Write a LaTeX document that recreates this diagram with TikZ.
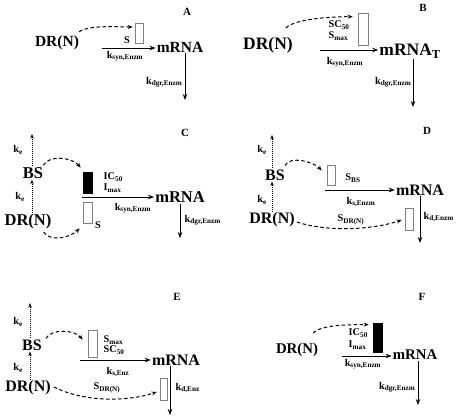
\documentclass[tikz,border=0pt]{standalone}
\usepackage{fontspec}
\setmainfont{Liberation Serif}
\usetikzlibrary{arrows.meta}

\tikzset{
  big/.style={font=\fontsize{#1}{#1}\selectfont\bfseries, inner sep=1pt},
  big/.default=16,
  lab/.style={font=\fontsize{10.3}{11}\selectfont\bfseries, inner sep=0.5pt},
  panel/.style={font=\fontsize{11}{11}\selectfont\bfseries},
  flow/.style={-{Stealth[length=6pt,width=4.5pt]}, line width=0.9pt},
  dflow/.style={-{Stealth[length=5pt,width=4pt]}, line width=1pt, dash pattern=on 3.5pt off 2.5pt},
  eflow/.style={-{Stealth[length=4.5pt,width=3.5pt]}, line width=1pt, dash pattern=on 1pt off 1pt},
  gbox/.style={draw=gray, line width=0.7pt, minimum width=8pt, minimum height=20pt, inner sep=0pt},
  kbox/.style={gbox, draw=black, fill=black},
}

\begin{document}
\begin{tikzpicture}[x=1pt, y=-1pt]
    \useasboundingbox (0,0) rectangle (460,418);

    % A
    \node [panel] (pA) at (187,12) {A};
    \node [big=15.5] (dA) at (57,43) {DR(N)};
    \node [big=15.5] (mA) at (180,47) {mRNA};
    \node [gbox] (bA) at (139,33) {};
    \node [lab] (sA) at (127,40) {S};
    \node [lab] (kA) at (125,56) {k\textsubscript{syn,Enzm}};
    \node [lab, anchor=east] (gA) at (183,82) {k\textsubscript{dgr,Enzm}};
    \coordinate (iA) at (102,48);
    \coordinate (oA) at (185,100);
    \draw [flow] (iA) -- (iA -| mA.west);
    \draw [flow] (oA |- mA.south) -- (oA);
    \draw [dflow] ([shift={(-1,-3)}]dA.north east) .. controls +(10,-7) and +(-15,0) .. ([shift={(-2,-6)}]bA.west);

    % B
    \node [panel] (pB) at (423,8) {B};
    \node [big=17.5] (dB) at (268,45) {DR(N)};
    \node [big=17.5] (mB) at (410,51) {mRNA\textsubscript{T}};
    \node [gbox, minimum width=10pt, minimum height=32pt] (bB) at (363,29) {};
    \node [lab, anchor=west] (scB) at (328,25) {SC\textsubscript{50}};
    \node [lab, anchor=west] (smB) at (328,36) {S\textsubscript{max}};
    \node [lab] (kB) at (345,62) {k\textsubscript{syn,Enzm}};
    \node [lab, anchor=east] (gB) at (412,82) {k\textsubscript{dgr,Enzm}};
    \coordinate (iB) at (320,50);
    \coordinate (oB) at (413,107);
    \draw [flow] (iB) -- (iB -| mB.west);
    \draw [flow] (oB |- mB.south) -- (oB);
    \draw [dflow] ([shift={(-8,-8)}]dB.north east) .. controls +(10,-10) and +(-15,0) .. ([shift={(-5,4)}]bB.north west);

    % C
    \node [panel] (pC) at (185,133) {C};
    \node [big=16.5] (bsC) at (33,173) {BS};
    \node [big=16.5] (dC) at (28,222) {DR(N)};
    \node [big=16.5] (mC) at (180,197) {mRNA};
    \node [kbox, minimum width=9pt, minimum height=21pt] (bC) at (87.5,182.5) {};
    \node [gbox, minimum width=9pt, minimum height=21pt] (wC) at (87.5,212.5) {};
    \node [lab, anchor=west] (icC) at (103,177) {IC\textsubscript{50}};
    \node [lab, anchor=west] (imC) at (103,188) {I\textsubscript{max}};
    \node [lab] (sC) at (98,225) {S};
    \node [lab] (kC) at (133,208) {k\textsubscript{syn,Enzm}};
    \node [lab, anchor=west] (gC) at (184,220) {k\textsubscript{dgr,Enzm}};
    \node [lab] (e1C) at (18,150) {k\textsubscript{e}};
    \node [lab] (e2C) at (20,197) {k\textsubscript{e}};
    \coordinate (tC) at (32,134);
    \coordinate (iC) at (82,197);
    \coordinate (oC) at (180,238);
    \draw [eflow] (tC |- bsC.north) -- (tC);
    \draw [eflow] (tC |- dC.north) -- (tC |- bsC.south);
    \draw [flow] (iC) -- (iC -| mC.west);
    \draw [flow] (oC |- mC.south) -- (oC);
    \draw [dflow] ([shift={(-1,-1)}]bsC.north east) .. controls +(6,-11) and +(-8,-10) .. ([shift={(-2,-4)}]bC.north west);
    \draw [dflow] ([shift={(-9,1.5)}]dC.south east) .. controls +(8,11) and +(-8,8) .. ([shift={(-3,5)}]wC.south west);

    % D
    \node [panel] (pD) at (427,131) {D};
    \node [big=16] (bsD) at (275,175) {BS};
    \node [big=16] (dD) at (272,220) {DR(N)};
    \node [big=16] (mD) at (420,190) {mRNA};
    \node [gbox] (bD) at (331,175) {};
    \node [gbox, minimum height=22pt] (wD) at (409,219) {};
    \node [lab] (sD) at (353,178) {S\textsubscript{BS}};
    \node [lab] (kD) at (361,202) {k\textsubscript{s,Enzm}};
    \node [lab] (rD) at (351,220) {S\textsubscript{DR(N)}};
    \node [lab, anchor=west] (gD) at (423,217) {k\textsubscript{d,Enzm}};
    \node [lab] (e1D) at (262,150) {k\textsubscript{e}};
    \node [lab] (e2D) at (262,200) {k\textsubscript{e}};
    \coordinate (tD) at (272,135);
    \coordinate (iD) at (325,190);
    \coordinate (oD) at (420,243);
    \draw [eflow] (tD |- bsD.north) -- (tD);
    \draw [eflow] (tD |- dD.north) -- (tD |- bsD.south);
    \draw [flow] (iD) -- (iD -| mD.west);
    \draw [flow] (oD |- mD.south) -- (oD);
    \draw [dflow] ([shift={(-1,-3)}]bsD.north east) .. controls +(5,-10) and +(-8,-9) .. ([shift={(-5,6)}]bD.north west);
    \draw [dflow] ([shift={(1,2)}]dD.east) .. controls +(30,10) and +(-30,10) .. ([shift={(-3,1)}]wD.west);

    % E
    \node [panel] (pE) at (177,297) {E};
    \node [big=16] (bsE) at (32,345) {BS};
    \node [big=16] (dE) at (28,388) {DR(N)};
    \node [big=16] (mE) at (176,360) {mRNA};
    \node [gbox, minimum width=9pt, minimum height=27pt] (bE) at (92.5,343.5) {};
    \node [gbox, minimum width=7pt, minimum height=22pt] (wE) at (163.5,389) {};
    \node [lab, anchor=west] (smE) at (103,340) {S\textsubscript{max}};
    \node [lab, anchor=west] (scE) at (103,350) {SC\textsubscript{50}};
    \node [lab] (kE) at (118,372) {k\textsubscript{s,Enz}};
    \node [lab] (rE) at (107,388) {S\textsubscript{DR(N)}};
    \node [lab, anchor=west] (gE) at (175,388) {k\textsubscript{d,Enz}};
    \node [lab] (e1E) at (18,322) {k\textsubscript{e}};
    \node [lab] (e2E) at (18,368) {k\textsubscript{e}};
    \coordinate (tE) at (30,303);
    \coordinate (iE) at (80,360);
    \coordinate (oE) at (170,415);
    \draw [eflow] (tE |- bsE.north) -- (tE);
    \draw [eflow] (tE |- dE.north) -- (tE |- bsE.south);
    \draw [flow] (iE) -- (iE -| mE.west);
    \draw [flow] (oE |- mE.south) -- (oE);
    \draw [dflow] ([shift={(3,0)}]bsE.north east) .. controls +(5,-10) and +(-8,-10) .. ([shift={(-5,10)}]bE.north west);
    \draw [dflow] ([shift={(2,-1)}]dE.east) .. controls +(30,15) and +(-30,10) .. ([shift={(-3,3)}]wE.west);

    % F
    \node [panel] (pF) at (422,297) {F};
    \node [big=14.8] (dF) at (297,350) {DR(N)};
    \node [big=14.8] (mF) at (415,355) {mRNA};
    \node [kbox, minimum width=9pt, minimum height=29pt] (bF) at (377.5,337.5) {};
    \node [lab, anchor=west] (icF) at (348,333) {IC\textsubscript{50}};
    \node [lab, anchor=west] (imF) at (348,345) {I\textsubscript{max}};
    \node [lab] (kF) at (363,364) {k\textsubscript{syn,Enzm}};
    \node [lab, anchor=east] (gF) at (416,387) {k\textsubscript{dgr,Enzm}};
    \coordinate (iF) at (342,356);
    \coordinate (oF) at (418,405);
    \draw [flow] (iF) -- (iF -| mF.west);
    \draw [flow] (oF |- mF.south) -- (oF);
    \draw [dflow] ([shift={(-6,-9)}]dF.north east) .. controls +(8,-9) and +(-15,0) .. ([shift={(-4,2)}]bF.north west);
  \end{tikzpicture}
\end{document}
